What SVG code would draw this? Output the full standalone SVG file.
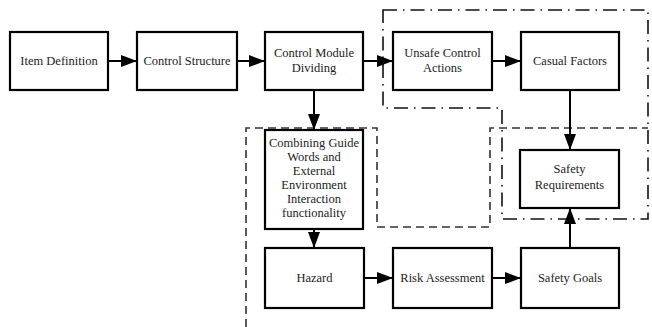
<svg xmlns="http://www.w3.org/2000/svg" width="652" height="327" viewBox="0 0 652 327">
  <style>
    .box { fill: #fff; stroke: #000; stroke-width: 2.2; }
    .wire { fill: none; stroke: #000; stroke-width: 2; }
    .dash { fill: none; stroke: #333; stroke-width: 1.6; stroke-dasharray: 8 5; }
    .dashdot { fill: none; stroke: #111; stroke-width: 1.6; stroke-dasharray: 14 6 1.5 6; }
  </style>
  <defs>
    <marker id="arr" viewBox="0 0 16 12" refX="16" refY="6" markerWidth="16" markerHeight="12" orient="auto" markerUnits="userSpaceOnUse">
      <path d="M0,0 L16,6 L0,12 z" fill="#000"/>
    </marker>
  </defs>
  <rect width="652" height="327" fill="#fff"/>

  <!-- grouping outlines -->
  <g id="regions">
    <path class="dashdot" d="M383,10 H648 V219 H502 V108 H383 Z"/>
    <path class="dash" d="M246,327 V128 H377 V227 H490 V128 H648"/>
  </g>

  <!-- connectors -->
  <g id="connectors">
    <line class="wire" x1="108" y1="61" x2="137" y2="61" marker-end="url(#arr)"/>
    <line class="wire" x1="237" y1="61" x2="265" y2="61" marker-end="url(#arr)"/>
    <line class="wire" x1="363" y1="61" x2="393" y2="61" marker-end="url(#arr)"/>
    <line class="wire" x1="492" y1="61" x2="521" y2="61" marker-end="url(#arr)"/>
    <line class="wire" x1="314" y1="90" x2="314" y2="130" marker-end="url(#arr)"/>
    <line class="wire" x1="314" y1="229" x2="314" y2="248" marker-end="url(#arr)"/>
    <line class="wire" x1="364" y1="278" x2="393" y2="278" marker-end="url(#arr)"/>
    <line class="wire" x1="492" y1="278" x2="521" y2="278" marker-end="url(#arr)"/>
    <line class="wire" x1="570" y1="90" x2="570" y2="150" marker-end="url(#arr)"/>
    <line class="wire" x1="570" y1="248" x2="570" y2="208" marker-end="url(#arr)"/>
  </g>

  <g font-family="'Liberation Serif', 'Times New Roman', serif" font-size="12.5" fill="#222" text-anchor="middle">
    <g id="item-definition">
      <rect class="box" x="10" y="32" width="98" height="58"/>
      <text x="59" y="65">Item Definition</text>
    </g>
    <g id="control-structure">
      <rect class="box" x="137" y="32" width="100" height="58"/>
      <text x="187" y="65">Control Structure</text>
    </g>
    <g id="control-module-dividing">
      <rect class="box" x="265" y="32" width="98" height="58"/>
      <text x="314" y="57">Control Module</text>
      <text x="314" y="72">Dividing</text>
    </g>
    <g id="unsafe-control-actions">
      <rect class="box" x="393" y="32" width="99" height="58"/>
      <text x="442.5" y="57">Unsafe Control</text>
      <text x="442.5" y="72">Actions</text>
    </g>
    <g id="casual-factors">
      <rect class="box" x="521" y="32" width="98" height="58"/>
      <text x="570" y="65">Casual Factors</text>
    </g>
    <g id="combining-guide-words">
      <rect class="box" x="265" y="130" width="98" height="99"/>
      <text x="314" y="147">Combining Guide</text>
      <text x="314" y="161">Words and</text>
      <text x="314" y="175">External</text>
      <text x="314" y="189">Environment</text>
      <text x="314" y="203">Interaction</text>
      <text x="314" y="217">functionality</text>
    </g>
    <g id="safety-requirements">
      <rect class="box" x="520" y="150" width="99" height="58"/>
      <text x="569.5" y="173">Safety</text>
      <text x="569.5" y="189">Requirements</text>
    </g>
    <g id="hazard">
      <rect class="box" x="265" y="248" width="99" height="60"/>
      <text x="314.5" y="282">Hazard</text>
    </g>
    <g id="risk-assessment">
      <rect class="box" x="393" y="248" width="99" height="60"/>
      <text x="442.5" y="282">Risk Assessment</text>
    </g>
    <g id="safety-goals">
      <rect class="box" x="521" y="248" width="98" height="60"/>
      <text x="570" y="282">Safety Goals</text>
    </g>
  </g>
</svg>
